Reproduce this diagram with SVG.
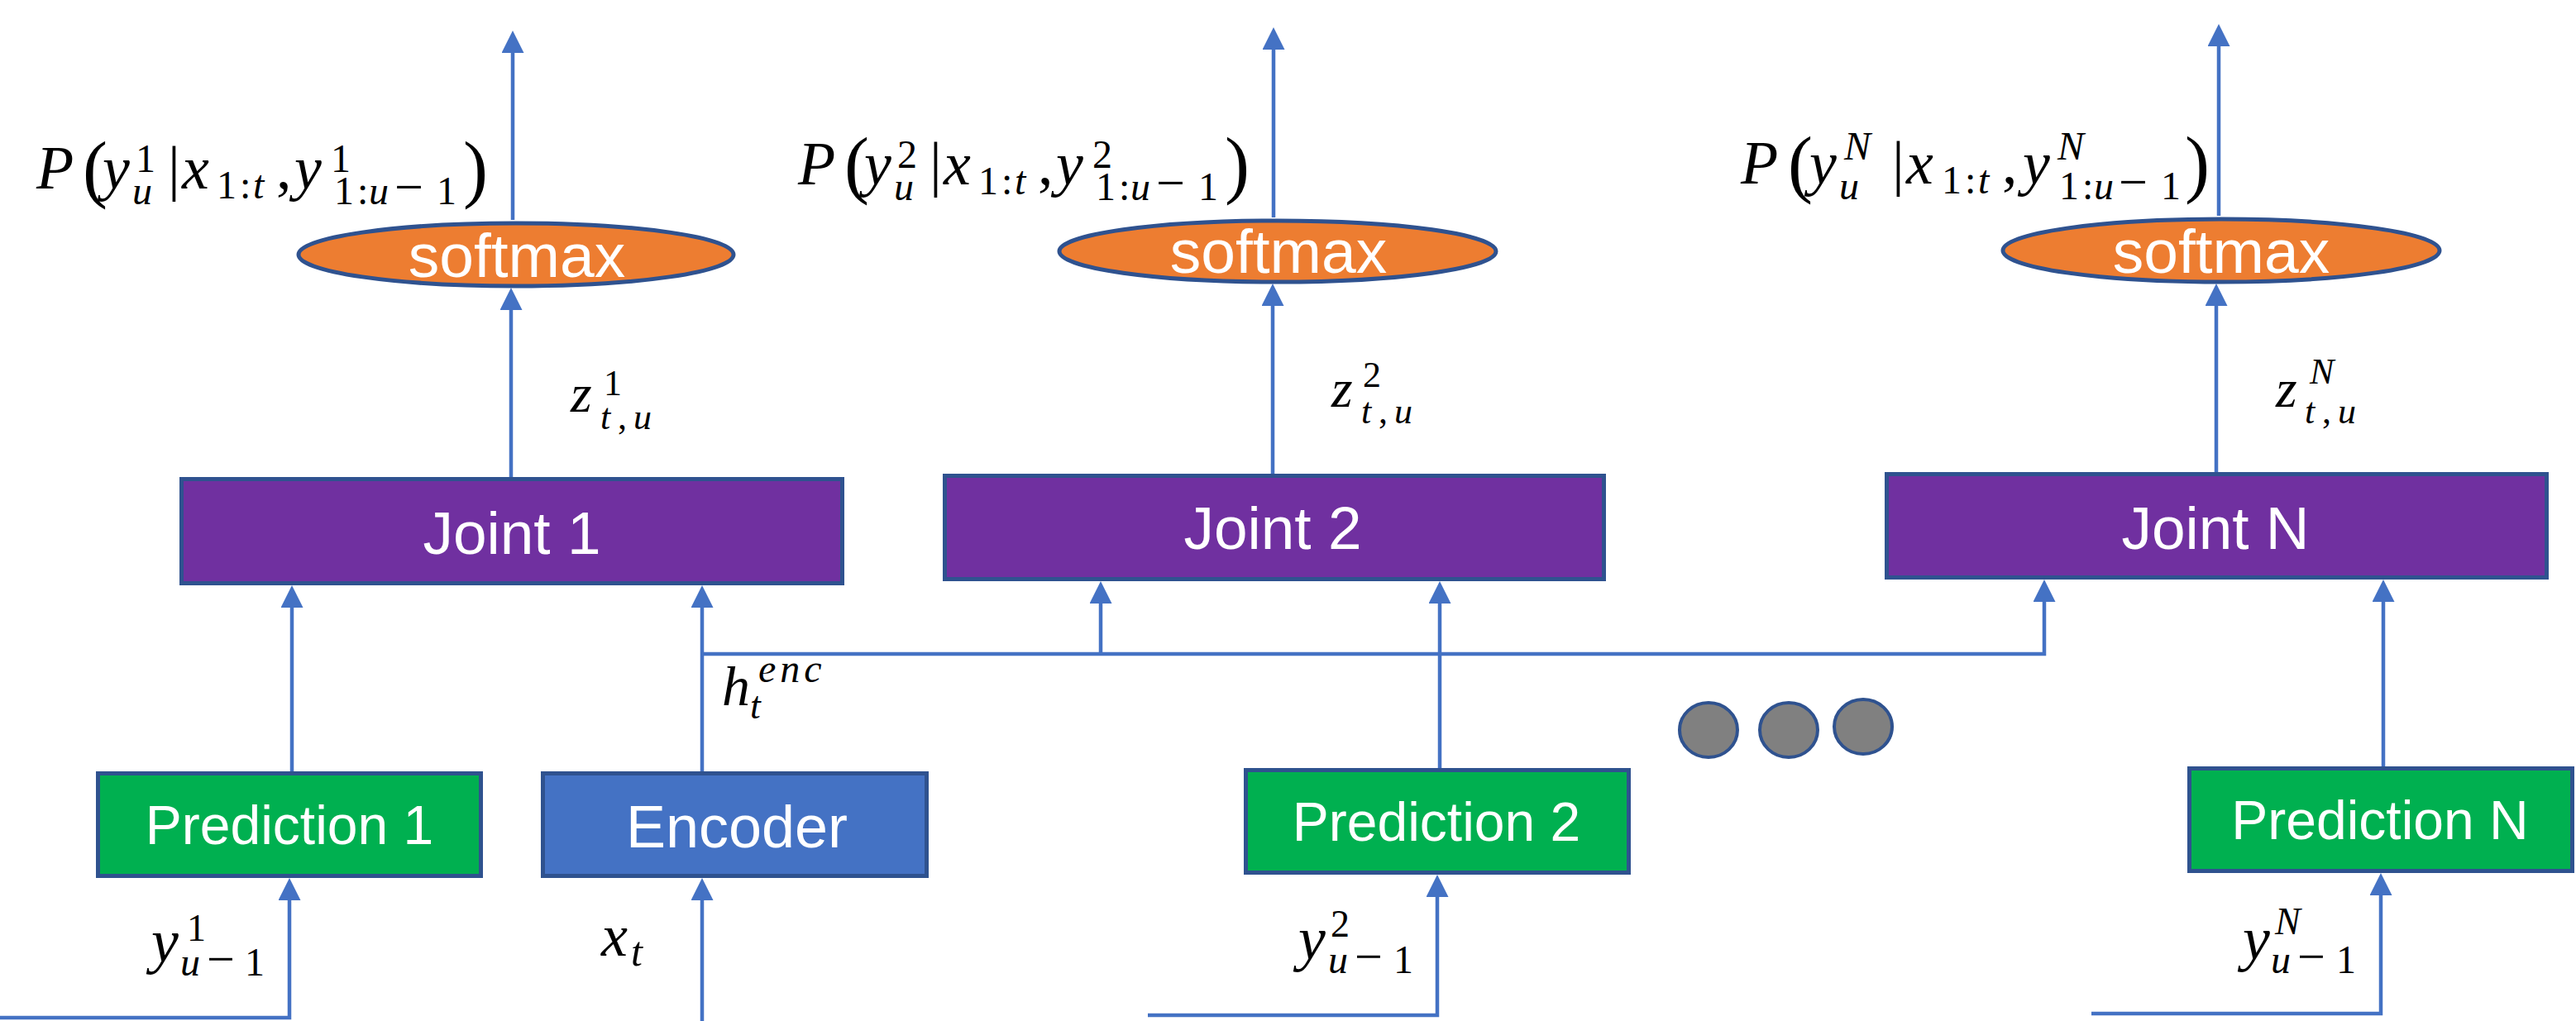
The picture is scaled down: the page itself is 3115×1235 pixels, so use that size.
<svg xmlns="http://www.w3.org/2000/svg" width="3115" height="1235" viewBox="0 0 3115 1235">
<style>
.conn{fill:none;stroke:#4472C4;stroke-width:4.5}
.arr{marker-end:url(#ah)}
.box{stroke:#2F528F;stroke-width:5}
.joint{fill:#7030A0}
.pred{fill:#00B050}
.enc{fill:#4472C4}
.sm{fill:#ED7D31;stroke:#2F528F;stroke-width:5}
.dot{fill:#808080;stroke:#2F528F;stroke-width:4}
.lbl{font-family:"Liberation Sans",Arial,sans-serif;fill:#fff;text-anchor:middle}
.math{font-family:"Liberation Serif","Times New Roman",serif;fill:#000}
.i{font-style:italic}
</style>
<defs>
<marker id="ah" markerUnits="userSpaceOnUse" markerWidth="28" markerHeight="28" viewBox="0 0 28 28" refX="17" refY="13.5" orient="auto">
<path d="M0,0 L27,13.5 L0,27 z" fill="#4472C4"/>
</marker>
</defs>

<g id="connectors">
<path class="conn arr" d="M620 266 V47"/>
<path class="conn arr" d="M1540 263 V43"/>
<path class="conn arr" d="M2683 261 V39"/>
<path class="conn arr" d="M618 577 V358"/>
<path class="conn arr" d="M1539 573 V353"/>
<path class="conn arr" d="M2680 571 V353"/>
<path class="conn arr" d="M353 933 V718"/>
<path class="conn arr" d="M849 933 V718"/>
<path class="conn arr" d="M849 791 H2472 V711"/>
<path class="conn arr" d="M1331 791 V713"/>
<path class="conn arr" d="M1741 929 V713"/>
<path class="conn arr" d="M2882 927 V711"/>
<path class="conn arr" d="M0 1231 H350 V1072"/>
<path class="conn arr" d="M849 1235 V1072"/>
<path class="conn arr" d="M1388 1228 H1738 V1068"/>
<path class="conn arr" d="M2529 1226 H2879 V1066"/>
</g>

<g id="softmax1"><ellipse class="sm" cx="624" cy="308" rx="263" ry="38"/><text class="lbl" x="625" y="335" font-size="75">softmax</text></g>
<g id="softmax2"><ellipse class="sm" cx="1545" cy="304" rx="264" ry="37"/><text class="lbl" x="1546" y="330" font-size="75">softmax</text></g>
<g id="softmaxN"><ellipse class="sm" cx="2686" cy="303" rx="264" ry="38"/><text class="lbl" x="2686" y="330" font-size="75">softmax</text></g>

<g id="joint1"><rect class="box joint" x="219.5" y="579.5" width="799" height="126"/><text class="lbl" x="619" y="670" font-size="73">Joint 1</text></g>
<g id="joint2"><rect class="box joint" x="1142.5" y="575.5" width="797" height="125"/><text class="lbl" x="1539" y="664" font-size="73">Joint 2</text></g>
<g id="jointN"><rect class="box joint" x="2281.5" y="573.5" width="798" height="125"/><text class="lbl" x="2679" y="664" font-size="73">Joint N</text></g>

<g id="prediction1"><rect class="box pred" x="118.5" y="935.5" width="463" height="124"/><text class="lbl" x="350" y="1021" font-size="66">Prediction 1</text></g>
<g id="encoder"><rect class="box enc" x="656.5" y="935.5" width="464" height="124"/><text class="lbl" x="891" y="1025" font-size="72">Encoder</text></g>
<g id="prediction2"><rect class="box pred" x="1506.5" y="931.5" width="463" height="124"/><text class="lbl" x="1737" y="1017" font-size="66">Prediction 2</text></g>
<g id="predictionN"><rect class="box pred" x="2647.5" y="929.5" width="463" height="124"/><text class="lbl" x="2878" y="1015" font-size="66">Prediction N</text></g>

<g id="dots">
<ellipse class="dot" cx="2066" cy="883" rx="35" ry="33"/>
<ellipse class="dot" cx="2163" cy="883" rx="35" ry="33"/>
<ellipse class="dot" cx="2253" cy="879" rx="35" ry="33"/>
</g>

<g id="labels" class="math">
<text font-size="74"><tspan class="i" x="44" y="228">P</tspan><tspan x="100" y="234" font-size="90">(</tspan><tspan class="i" x="124" y="228">y</tspan><tspan x="164" y="208" font-size="48">1</tspan><tspan class="i" x="160" y="247" font-size="48">u</tspan><tspan x="203" y="228">|</tspan><tspan class="i" x="220" y="228">x</tspan><tspan x="262" y="240" font-size="48">1</tspan><tspan x="290" y="240" font-size="48">:</tspan><tspan class="i" x="306" y="240" font-size="48">t</tspan><tspan x="334" y="228">,</tspan><tspan class="i" x="356" y="228">y</tspan><tspan x="400" y="208" font-size="48">1</tspan><tspan x="404" y="247" font-size="48">1</tspan><tspan x="432" y="247" font-size="48">:</tspan><tspan class="i" x="446" y="247" font-size="48">u</tspan><tspan x="477" y="247" font-size="62">−</tspan><tspan x="528" y="247" font-size="48">1</tspan><tspan x="560" y="234" font-size="90">)</tspan></text>

<text font-size="74"><tspan class="i" x="965" y="223">P</tspan><tspan x="1021" y="229" font-size="90">(</tspan><tspan class="i" x="1045" y="223">y</tspan><tspan x="1085" y="203" font-size="48">2</tspan><tspan class="i" x="1081" y="242" font-size="48">u</tspan><tspan x="1124" y="223">|</tspan><tspan class="i" x="1141" y="223">x</tspan><tspan x="1183" y="235" font-size="48">1</tspan><tspan x="1211" y="235" font-size="48">:</tspan><tspan class="i" x="1227" y="235" font-size="48">t</tspan><tspan x="1255" y="223">,</tspan><tspan class="i" x="1277" y="223">y</tspan><tspan x="1321" y="203" font-size="48">2</tspan><tspan x="1325" y="242" font-size="48">1</tspan><tspan x="1353" y="242" font-size="48">:</tspan><tspan class="i" x="1367" y="242" font-size="48">u</tspan><tspan x="1398" y="242" font-size="62">−</tspan><tspan x="1449" y="242" font-size="48">1</tspan><tspan x="1481" y="229" font-size="90">)</tspan></text>

<text font-size="74"><tspan class="i" x="2105" y="222">P</tspan><tspan x="2162" y="228" font-size="90">(</tspan><tspan class="i" x="2188" y="222">y</tspan><tspan class="i" x="2230" y="193" font-size="48">N</tspan><tspan class="i" x="2224" y="241" font-size="48">u</tspan><tspan x="2288" y="222">|</tspan><tspan class="i" x="2305" y="222">x</tspan><tspan x="2348" y="234" font-size="48">1</tspan><tspan x="2376" y="234" font-size="48">:</tspan><tspan class="i" x="2392" y="234" font-size="48">t</tspan><tspan x="2421" y="222">,</tspan><tspan class="i" x="2446" y="222">y</tspan><tspan class="i" x="2488" y="193" font-size="48">N</tspan><tspan x="2490" y="241" font-size="48">1</tspan><tspan x="2518" y="241" font-size="48">:</tspan><tspan class="i" x="2532" y="241" font-size="48">u</tspan><tspan x="2562" y="241" font-size="62">−</tspan><tspan x="2613" y="241" font-size="48">1</tspan><tspan x="2642" y="228" font-size="90">)</tspan></text>

<text font-size="66"><tspan class="i" x="690" y="498">z</tspan><tspan x="730" y="478" font-size="44">1</tspan><tspan class="i" x="726" y="519" font-size="44">t</tspan><tspan x="747" y="519" font-size="44">,</tspan><tspan class="i" x="766" y="519" font-size="44">u</tspan></text>
<text font-size="66"><tspan class="i" x="1610" y="492">z</tspan><tspan x="1648" y="468" font-size="44">2</tspan><tspan class="i" x="1646" y="512" font-size="44">t</tspan><tspan x="1667" y="512" font-size="44">,</tspan><tspan class="i" x="1686" y="512" font-size="44">u</tspan></text>
<text font-size="66"><tspan class="i" x="2752" y="492">z</tspan><tspan class="i" x="2793" y="464" font-size="44">N</tspan><tspan class="i" x="2787" y="512" font-size="44">t</tspan><tspan x="2808" y="512" font-size="44">,</tspan><tspan class="i" x="2827" y="512" font-size="44">u</tspan></text>

<text font-size="68"><tspan class="i" x="873" y="853">h</tspan><tspan class="i" x="917" y="825" font-size="48" letter-spacing="5">enc</tspan><tspan class="i" x="907" y="869" font-size="46">t</tspan></text>

<text font-size="74"><tspan class="i" x="183" y="1163">y</tspan><tspan x="226" y="1138" font-size="46">1</tspan><tspan class="i" x="218" y="1180" font-size="48">u</tspan><tspan x="250" y="1180" font-size="60">−</tspan><tspan x="296" y="1180" font-size="48">1</tspan></text>
<text font-size="74"><tspan class="i" x="1570" y="1160">y</tspan><tspan x="1609" y="1133" font-size="46">2</tspan><tspan class="i" x="1606" y="1177" font-size="48">u</tspan><tspan x="1638" y="1177" font-size="60">−</tspan><tspan x="1685" y="1177" font-size="48">1</tspan></text>
<text font-size="74"><tspan class="i" x="2712" y="1160">y</tspan><tspan class="i" x="2751" y="1130" font-size="46">N</tspan><tspan class="i" x="2746" y="1177" font-size="48">u</tspan><tspan x="2778" y="1177" font-size="60">−</tspan><tspan x="2825" y="1177" font-size="48">1</tspan></text>

<text font-size="72"><tspan class="i" x="727" y="1156">x</tspan><tspan class="i" x="763" y="1168" font-size="50">t</tspan></text>
</g>
</svg>
